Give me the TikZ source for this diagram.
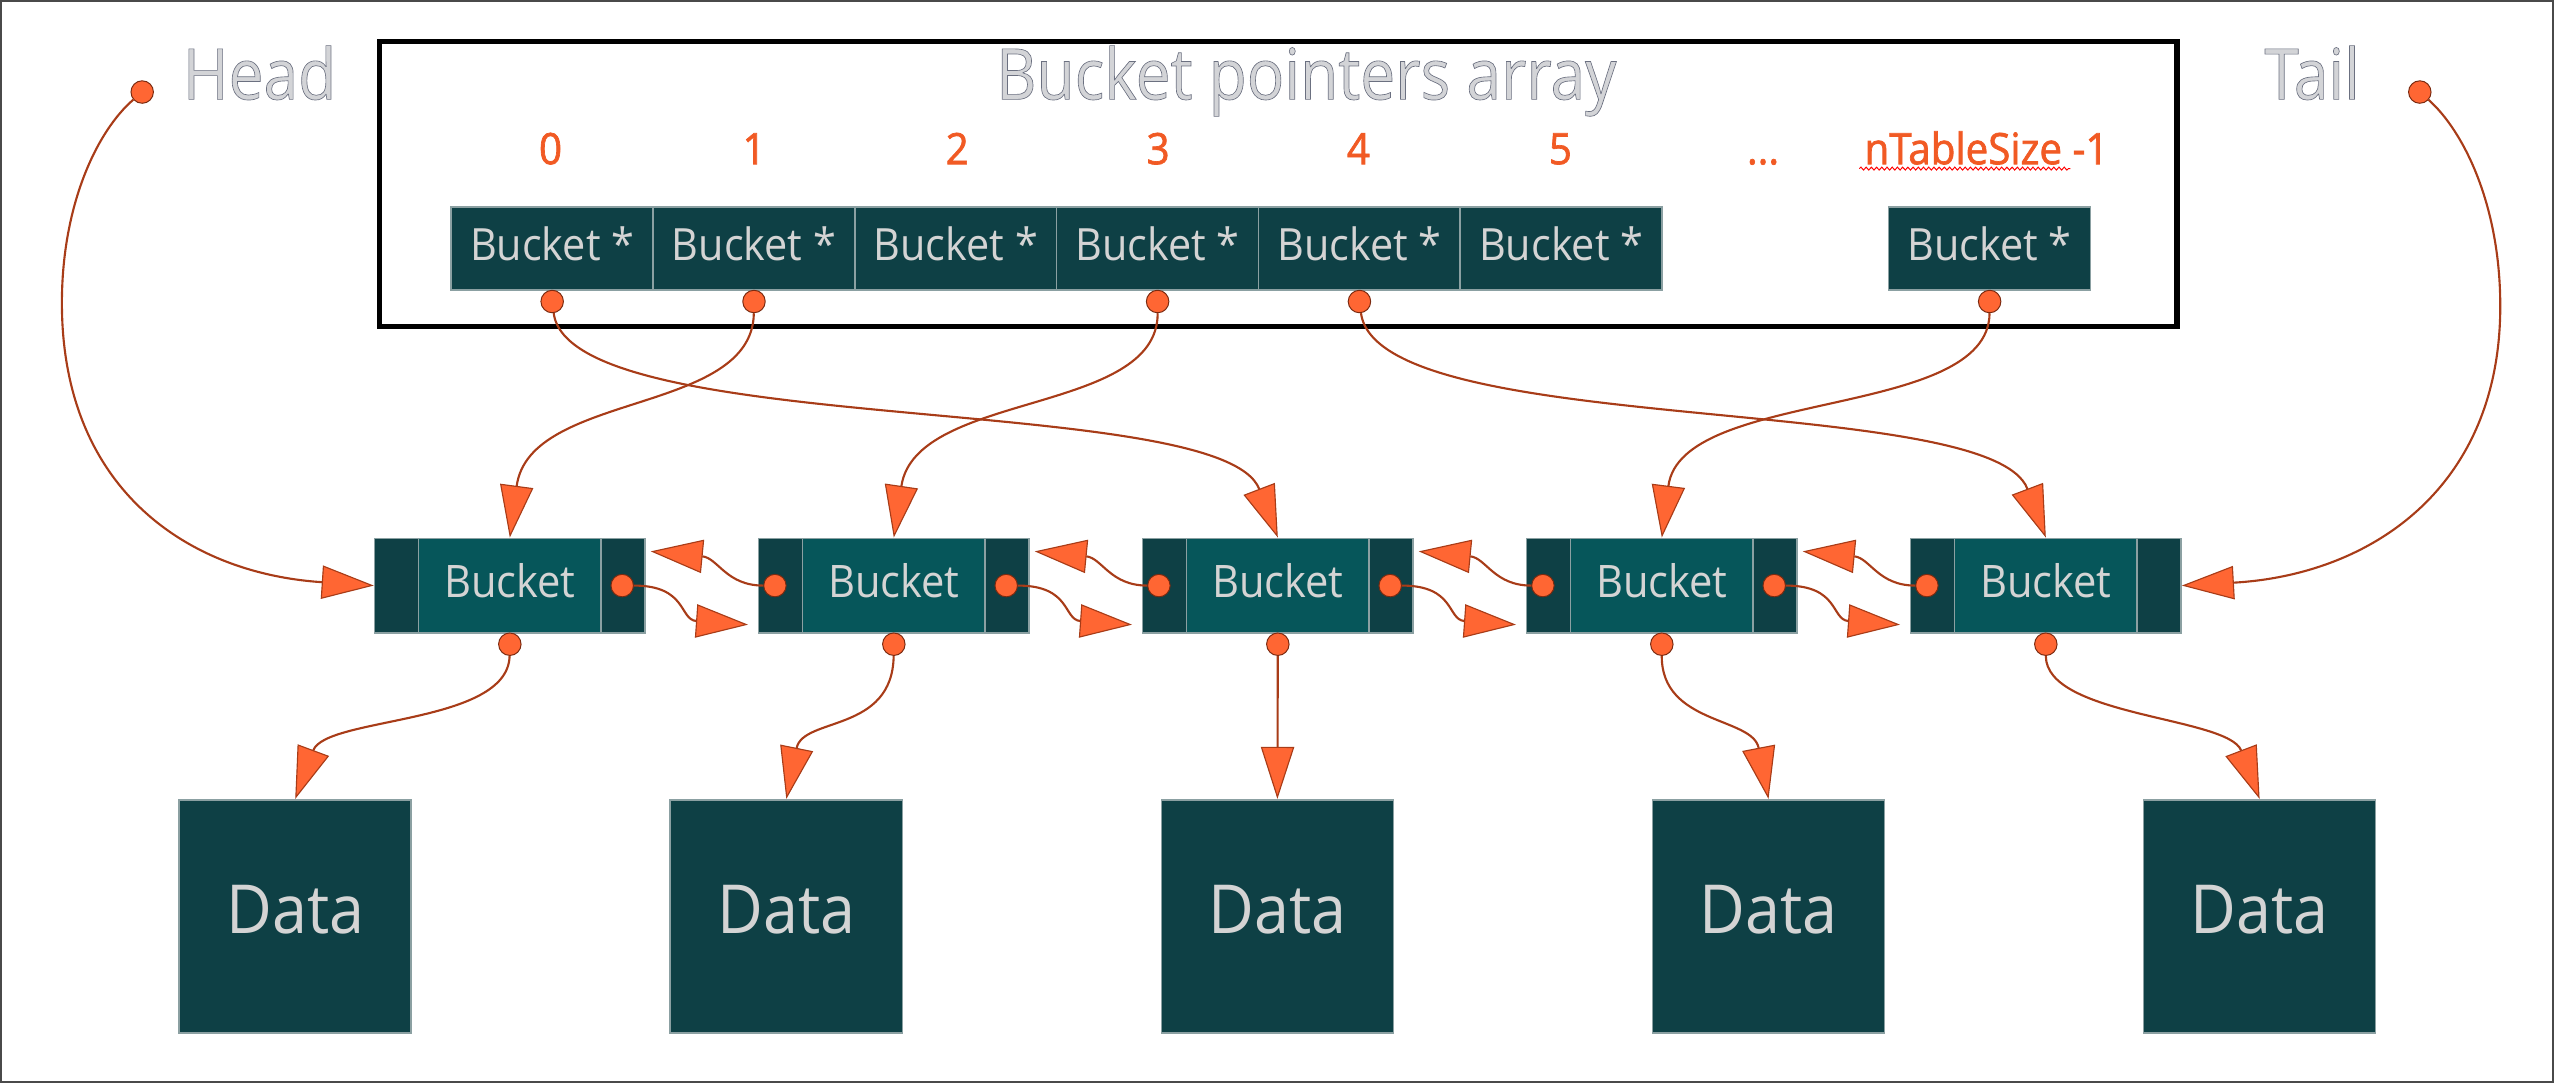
\documentclass[tikz,border=0pt]{standalone}
\usepackage{fontspec}
\setmainfont{Open Sans}
\newfontfamily\segL[FakeStretch=0.88]{Open Sans}
\newfontfamily\seg[FakeStretch=0.93]{Open Sans}
\newfontfamily\segB[FakeStretch=0.93,FakeBold=1.6]{Open Sans}
\usetikzlibrary{arrows.meta,calc,decorations.pathmorphing}
\definecolor{cellfill}{HTML}{0E4045}
\definecolor{midfill}{HTML}{06565A}
\definecolor{cellborder}{HTML}{8BA0A2}
\definecolor{lbl}{HTML}{D4D4D4}
\definecolor{titlegray}{HTML}{D3D4D7}
\definecolor{idx}{HTML}{F15A24}
\definecolor{dotfill}{HTML}{FF6633}
\definecolor{linec}{HTML}{A83C18}
\definecolor{dotline}{HTML}{7A2A10}
\definecolor{framec}{HTML}{4A4A4A}
\newcommand{\outl}[1]{\special{pdf:literal direct 0.42 0.44 0.50 RG 0.4 w 2 Tr}#1\special{pdf:literal direct 0 Tr}}
\begin{document}
\begin{tikzpicture}[x=1pt,y=-1pt,
  titletext/.style={inner sep=0pt, text=titlegray, font=\segL\fontsize{43.4}{46}\selectfont},
  idxlbl/.style={inner sep=0pt, anchor=base, text=idx, font=\segB\fontsize{26.6}{28}\selectfont},
  cell/.style={draw=cellborder, line width=1pt, fill=cellfill, minimum width=124pt, minimum height=51pt,
    inner sep=0pt, text=lbl, font=\seg\fontsize{27.3}{29}\selectfont, text height=20pt, text depth=5pt},
  bucketnode/.style={draw=cellborder, line width=1pt, fill=midfill, minimum width=166pt, minimum height=58pt,
    inner sep=0pt, text=lbl, font=\seg\fontsize{27.5}{29}\selectfont, text height=20pt, text depth=5.5pt,
    path picture={
      \fill[cellfill] (path picture bounding box.south west) rectangle ([xshift=27pt]path picture bounding box.north west);
      \fill[cellfill] (path picture bounding box.south east) rectangle ([xshift=-27pt]path picture bounding box.north east);
      \draw[cellborder, line width=0.8pt] ([xshift=27pt]path picture bounding box.south west) -- ([xshift=27pt]path picture bounding box.north west);
      \draw[cellborder, line width=0.8pt] ([xshift=-27pt]path picture bounding box.south east) -- ([xshift=-27pt]path picture bounding box.north east);
    }},
  datanode/.style={draw=cellborder, line width=1pt, fill=cellfill, minimum width=142.5pt, minimum height=143pt,
    inner sep=0pt, text=lbl, font=\seg\fontsize{41.5}{44}\selectfont, text height=30pt, text depth=9pt},
  dot/.style={circle, fill=dotfill, draw=dotline, line width=0.6pt, minimum size=13.8pt, inner sep=0pt},
  conn/.style={draw=linec, line width=1.3pt, -{Triangle[length=32pt,width=20.5pt,fill=dotfill,line width=0.7pt]}}
]
\useasboundingbox (0,0) rectangle (1568,665);
\draw[framec, line width=1.4pt] (0.7,0.7) rectangle (1567.3,664.3);
\draw[line width=3.3pt] (233,25.5) rectangle (1336.5,200.5);

% titles
\node[titletext, anchor=base west] (head) at (112,61) {\outl{Head}};
\node[titletext, anchor=base] (title) at (802,61) {\outl{Bucket pointers array}};
\node[titletext, anchor=base west] (tail) at (1390,61) {\outl{Tail}};

% indices
\node[idxlbl] (i0) at (338,100.8) {0};
\node[idxlbl] (i1) at (463,100.8) {1};
\node[idxlbl] (i2) at (587.7,100.8) {2};
\node[idxlbl] (i3) at (711,100.8) {3};
\node[idxlbl] (i4) at (834,100.8) {4};
\node[idxlbl] (i5) at (958,100.8) {5};
\node[idxlbl] (idots) at (1082.4,100.8) {...};
\node[idxlbl] (iN) at (1219.6,100.8) {nTableSize -1};
\draw[red, line width=0.6pt, decorate, decoration={snake, amplitude=0.9pt, segment length=3.2pt}] (1141.5,103.5) -- (1271,103.5);

% pointer cells
\foreach \i in {0,...,5} \node[cell] (c\i) at ({339+123.9*\i},152.5) {Bucket *};
\node[cell] (cN) at (1221.5,152.5) {Bucket *};
\foreach \n in {0,1,3,4,N} \node[dot] (cd\n) at ([yshift=-6.6pt]c\n.south) {};

% buckets and data
\foreach \i in {1,...,5} {
  \node[bucketnode, anchor=north west] (b\i) at ({229.5+235.75*(\i-1)},330) {Bucket};
  \node[dot] (bb\i) at ([yshift=-6.5pt]b\i.south) {};
  \node[datanode] (d\i) at ({181.25+301.5*(\i-1)},562.5) {Data};
}
\foreach \i in {1,...,4} \node[dot] (br\i) at ([xshift=-14.5pt]b\i.east) {};
\foreach \i in {2,...,5} \node[dot] (bl\i) at ([xshift=10.5pt]b\i.west) {};
\node[dot] (hd) at (87.3,56.5) {};
\node[dot] (td) at (1485.6,56.5) {};

% head / tail
\draw[conn] (hd) .. controls (60,80) and (38,125) .. (38,186) .. controls (38,300) and (115,352) .. (b1.west);
\draw[conn] (td) .. controls (1512,80) and (1535,125) .. (1535,188) .. controls (1535,300) and (1455,353) .. (b5.east);

% pointer array -> buckets
\draw[conn] (cd0) .. controls (350,270) and (750,240) .. (b3.north);
\draw[conn] (cd1) .. controls (462,255) and (325,240) .. (b1.north);
\draw[conn] (cd3) .. controls (711,255) and (562,240) .. (b2.north);
\draw[conn] (cd4) .. controls (846,270) and (1222,240) .. (b5.north);
\draw[conn] (cdN) .. controls (1221,258) and (1032,238) .. (b4.north);

% next / prev links
\foreach \i/\j in {1/2,2/3,3/4,4/5} {
  \draw[conn] (br\i) .. controls ($(br\i)+(40,0)$) and ($(br\i)+(35,21)$) .. ($(b\j.west)+(-6,24)$);
  \draw[conn] (bl\j) .. controls ($(bl\j)+(-30,0)$) and ($(bl\j)+(-35,-17)$) .. ($(b\i.east)+(3,-21)$);
}

% buckets -> data
\draw[conn] (bb1) .. controls (312,445) and (200,440) .. (d1.north);
\draw[conn] (bb2) .. controls (548,450) and (493,440) .. (d2.north);
\draw[conn] (bb3) -- (d3.north);
\draw[conn] (bb4) .. controls (1020,445) and (1076,440) .. (d4.north);
\draw[conn] (bb5) .. controls (1256,440) and (1368,440) .. (d5.north);
\end{tikzpicture}
\end{document}
